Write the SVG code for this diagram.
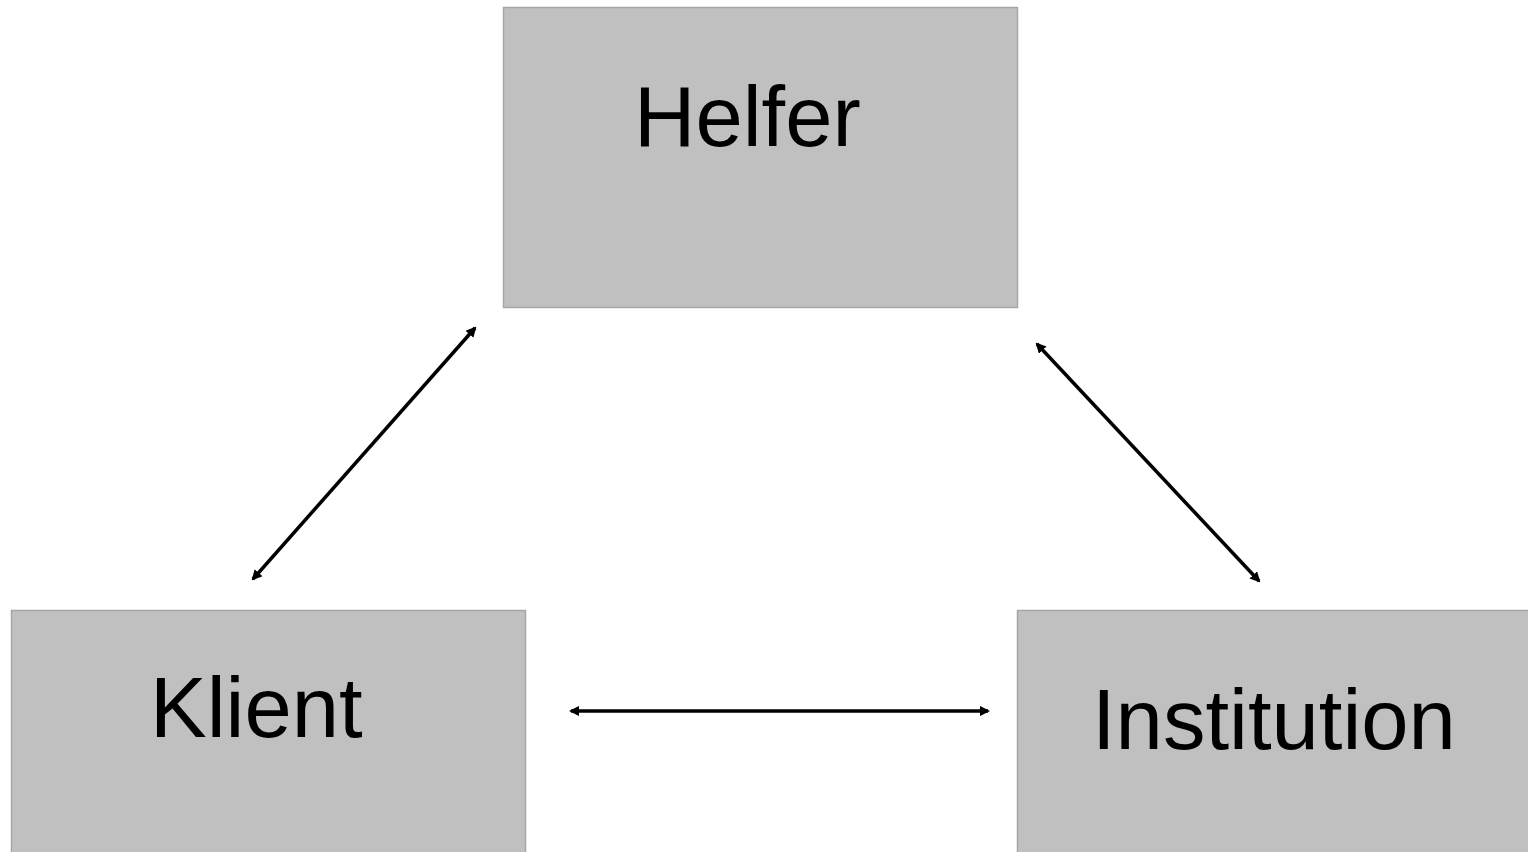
<svg xmlns="http://www.w3.org/2000/svg" width="1528" height="852" viewBox="0 0 1528 852">
  <style>
    .box { fill: #c0c0c0; stroke: #a6a6a6; stroke-width: 1.5; }
    .label { font-family: "Liberation Sans", Arial, sans-serif; font-size: 85px; fill: #000; }
    .link { stroke: #000; stroke-width: 3.5; fill: none; marker-start: url(#head); marker-end: url(#head); }
  </style>
  <defs>
    <marker id="head" viewBox="0 0 10 10" refX="8" refY="5" markerWidth="3" markerHeight="3" orient="auto-start-reverse" markerUnits="strokeWidth">
      <path d="M0,0 L10,5 L0,10 z" fill="#000"/>
    </marker>
  </defs>
  <rect width="1528" height="852" fill="#fff"/>
  <g id="helfer">
    <rect class="box" x="503.5" y="7.5" width="514" height="300"/>
    <text class="label" x="634" y="146">Helfer</text>
  </g>
  <g id="klient">
    <rect class="box" x="11.5" y="610.5" width="514" height="250"/>
    <text class="label" x="150" y="737">Klient</text>
  </g>
  <g id="institution">
    <rect class="box" x="1017.5" y="610.5" width="520" height="250"/>
    <text class="label" x="1092" y="749">Institution</text>
  </g>
  <g id="connectors">
    <line class="link" x1="253" y1="579" x2="475" y2="328"/>
    <line class="link" x1="1037" y1="344" x2="1259" y2="581"/>
    <line class="link" x1="571" y1="711" x2="988" y2="711"/>
  </g>
</svg>
